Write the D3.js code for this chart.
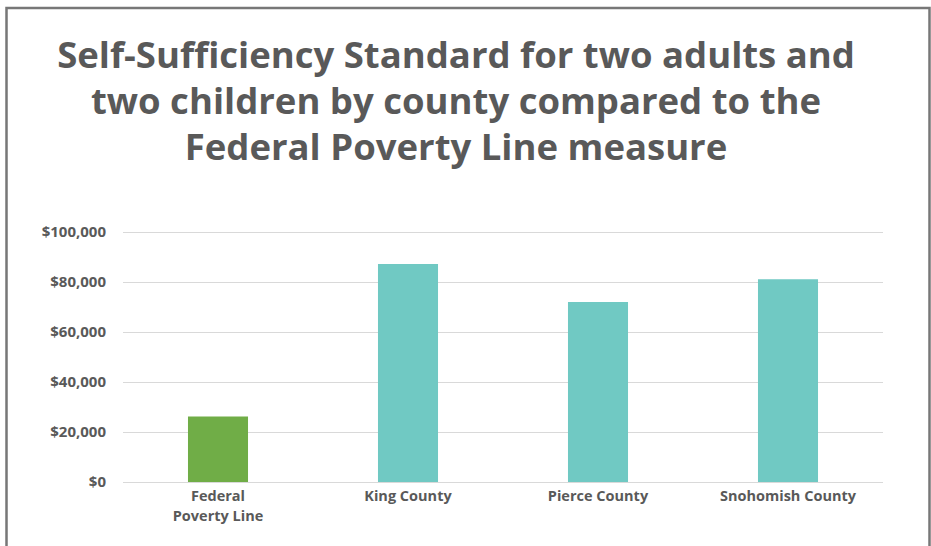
<!DOCTYPE html>
<html>
<head>
<meta charset="utf-8">
<script src="https://cdn.jsdelivr.net/npm/d3@7"></script>
<style>
  body { margin: 0; background: #fff; }
  svg { display: block; }
</style>
</head>
<body>
<div class="chart"></div>
<script>
// values
var categories = [["Federal", "Poverty Line"], ["King County"], ["Pierce County"], ["Snohomish County"]];
var values = [26200, 87200, 72000, 81100];
var barColors = ["#70ad47", "#70c9c3", "#70c9c3", "#70c9c3"];
var tickValues = [0, 20000, 40000, 60000, 80000, 100000];
var titleLines = ["Self-Sufficiency Standard for two adults and",
                  "two children by county compared to the",
                  "Federal Poverty Line measure"];

var width = 931, height = 546;
var font = "'Open Sans', Lato, sans-serif";
var textColor = "#595959";

var svg = d3.select(".chart").append("svg")
    .attr("width", width)
    .attr("height", height);

// frame (no bottom edge, it runs off the page)
svg.append("path")
    .attr("d", "M6.5," + height + " V8 H929.5 V" + height)
    .attr("fill", "none")
    .attr("stroke", "#777")
    .attr("stroke-width", 2.5);

var title = svg.append("text")
    .attr("text-anchor", "middle")
    .attr("font-family", font)
    .attr("font-weight", "bold")
    .attr("font-size", 36.5)
    .style("fill", textColor);

titleLines.forEach(function(line, i){
  title.append("tspan")
      .attr("x", 456)
      .attr("y", 68 + i * 46)
      .text(line);
});

var x = d3.scaleBand()
    .domain(d3.range(categories.length))
    .range([123, 883])
    .paddingInner(0.684)
    .paddingOuter(0.342);

var y = d3.scaleLinear()
    .domain([0, 100000])
    .range([482, 232]);

// grid lines
svg.append("g")
    .selectAll("line")
    .data(tickValues)
    .join("line")
    .attr("x1", 123)
    .attr("x2", 883)
    .attr("y1", function(d){ return Math.round(y(d)) + 0.5; })
    .attr("y2", function(d){ return Math.round(y(d)) + 0.5; })
    .attr("stroke", "#d9d9d9")
    .attr("stroke-width", 1);

var yAxis = svg.append("g")
    .attr("transform", "translate(123,0)")
    .call(d3.axisLeft(y)
      .tickValues(tickValues)
      .tickSize(0)
      .tickPadding(17)
      .tickFormat(function(d){ return "$" + d3.format(",")(d); }));

yAxis.select(".domain").remove();
yAxis.selectAll("text")
    .attr("font-family", font)
    .attr("font-weight", "bold")
    .attr("font-size", 15)
    .style("fill", textColor);

svg.append("g")
    .selectAll("rect")
    .data(values)
    .join("rect")
    .attr("x", function(d, i){ return x(i); })
    .attr("y", function(d){ return y(d); })
    .attr("width", x.bandwidth())
    .attr("height", function(d){ return y(0) - y(d); })
    .attr("fill", function(d, i){ return barColors[i]; });

// category labels
var labels = svg.append("g")
    .selectAll("text")
    .data(categories)
    .join("text")
    .attr("text-anchor", "middle")
    .attr("font-family", font)
    .attr("font-weight", "bold")
    .attr("font-size", 14.5)
    .style("fill", textColor);

labels.each(function(lines, i){
  var t = d3.select(this);
  lines.forEach(function(line, j){
    t.append("tspan")
        .attr("x", x(i) + x.bandwidth() / 2)
        .attr("y", 501 + j * 20)
        .text(line);
  });
});
</script>
</body>
</html>
